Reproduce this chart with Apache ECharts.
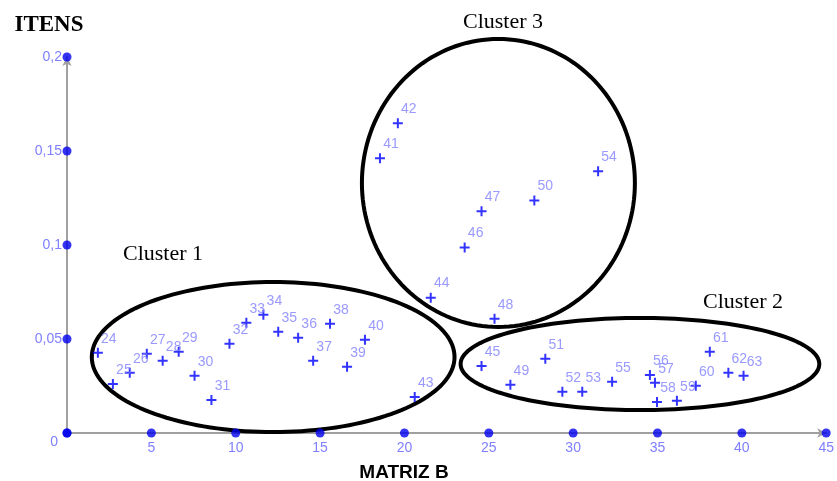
<!DOCTYPE html>
<html>
<head>
<meta charset="utf-8">
<script src="https://cdn.jsdelivr.net/npm/echarts@6/dist/echarts.min.js"></script>
<style>
html,body{margin:0;padding:0;background:#fff;}
#chart{width:837px;height:481px;}
</style>
</head>
<body>
<div id="chart"></div>
<script>
// Item numbers and their coordinates (MATRIZ B, ITENS)
const ids = [24,25,26,27,28,29,30,31,32,33,34,35,36,37,38,39,40,41,42,43,44,45,46,47,48,49,50,51,52,53,54,55,56,57,58,59,60,61,62,63];
const xs  = [1.83,2.72,3.72,4.73,5.67,6.62,7.56,8.56,9.63,10.63,11.64,12.52,13.70,14.59,15.59,16.60,17.66,18.55,19.61,20.61,21.56,24.57,23.57,24.57,25.34,26.28,27.70,28.35,29.36,30.54,31.48,32.31,34.55,34.85,34.97,36.15,37.27,38.10,39.20,40.10];
const ys  = [0.0427,0.0261,0.0320,0.0421,0.0384,0.0432,0.0304,0.0176,0.0475,0.0587,0.0629,0.0539,0.0507,0.0384,0.0581,0.0352,0.0496,0.1461,0.1648,0.0192,0.0720,0.0357,0.0987,0.1179,0.0608,0.0256,0.1237,0.0395,0.0219,0.0219,0.1392,0.0272,0.0309,0.0267,0.0165,0.0171,0.0251,0.0432,0.0320,0.0304];

// Axis ticks
const xTicks = [0,5,10,15,20,25,30,35,40,45];
const yTicks = [0,0.05,0.1,0.15,0.2];

// Cluster ellipses in data units: centre x, centre y, radius x, radius y
const clusterNames = ['Cluster 1','Cluster 2','Cluster 3'];
const clusterCx = [12.22, 33.96, 25.57];
const clusterCy = [0.0404, 0.0367, 0.133];
const clusterRx = [10.75, 10.63, 8.09];
const clusterRy = [0.0399, 0.0245, 0.0766];

const chart = echarts.init(document.getElementById('chart'), null, {renderer:'canvas'});

const pointData = ids.map((id,i)=>[xs[i], ys[i], id]);
const tickData = xTicks.map(x=>[x,0]).concat(yTicks.map(y=>[0,y]));

const labelColor = '#7f7fff';
const axisLineStyle = {color:'#a0a0a0', width:2};

const option = {
  animation:false,
  backgroundColor:'#fff',
  grid:{left:67, right:8, top:57, bottom:48},
  xAxis:{
    type:'value', min:0, max:45, interval:5,
    axisLine:{show:true, onZero:false, lineStyle:axisLineStyle, symbol:['none','arrow'], symbolSize:[7,9]},
    axisTick:{show:false},
    splitLine:{show:false},
    axisLabel:{color:labelColor, fontSize:14, fontFamily:'Liberation Sans', margin:8, showMinLabel:false}
  },
  yAxis:{
    type:'value', min:0, max:0.2, interval:0.05,
    axisLine:{show:true, onZero:false, lineStyle:axisLineStyle, symbol:['none','arrow'], symbolSize:[7,9]},
    axisTick:{show:false},
    splitLine:{show:false},
    axisLabel:{
      color:labelColor, fontSize:14, fontFamily:'Liberation Sans', margin:5,
      formatter:function(v){
        if (v===0) return '{z|0}';
        return String(+v.toFixed(2)).replace('.',',');
      },
      rich:{z:{color:labelColor, fontSize:14, fontFamily:'Liberation Sans', padding:[18,4,0,0]}}
    }
  },
  series:[
    {
      type:'scatter',
      data:tickData,
      symbol:'circle',
      symbolSize:9,
      itemStyle:{color:'#0000ee'},
      clip:false,
      silent:true,
      z:3
    },
    {
      type:'scatter',
      data:pointData,
      symbol:'path://M4,0H6V4H10V6H6V10H4V6H0V4H4Z',
      symbolSize:10,
      itemStyle:{color:'#0000ff'},
      label:{
        show:true,
        position:'inside',
        offset:[11,-14],
        formatter:function(p){return String(p.value[2]);},
        color:labelColor,
        fontSize:14,
        fontFamily:'Liberation Sans'
      },
      z:4
    }
  ]
};
chart.setOption(option);

// Build the cluster ellipses from data coordinates
const graphics = [];
for (let k=0;k<clusterCx.length;k++){
  const pts = [];
  const N = 160;
  for (let i=0;i<N;i++){
    const t = 2*Math.PI*i/N;
    pts.push(chart.convertToPixel({gridIndex:0},[clusterCx[k]+clusterRx[k]*Math.cos(t), clusterCy[k]+clusterRy[k]*Math.sin(t)]));
  }
  graphics.push({type:'polygon', shape:{points:pts}, style:{fill:'none', stroke:'#000', lineWidth:4}, z:1, silent:true});
}
const textStyleSerif = {fill:'#000', fontSize:22, fontFamily:'Liberation Serif', align:'center', verticalAlign:'middle'};
graphics.push({type:'text', x:163, y:254, style:Object.assign({text:clusterNames[0]}, textStyleSerif), z:5});
graphics.push({type:'text', x:743, y:302, style:Object.assign({text:clusterNames[1]}, textStyleSerif), z:5});
graphics.push({type:'text', x:503, y:22, style:Object.assign({text:clusterNames[2]}, textStyleSerif), z:5});
graphics.push({type:'text', x:49, y:25, style:{text:'ITENS', fill:'#000', fontSize:23, fontWeight:'bold', fontFamily:'Liberation Serif', align:'center', verticalAlign:'middle'}, z:5});
graphics.push({type:'text', x:404, y:473, style:{text:'MATRIZ B', fill:'#000', fontSize:19, fontWeight:'bold', fontFamily:'Liberation Sans', align:'center', verticalAlign:'middle'}, z:5});
chart.setOption({graphic:{elements:graphics}});
</script>
</body>
</html>
